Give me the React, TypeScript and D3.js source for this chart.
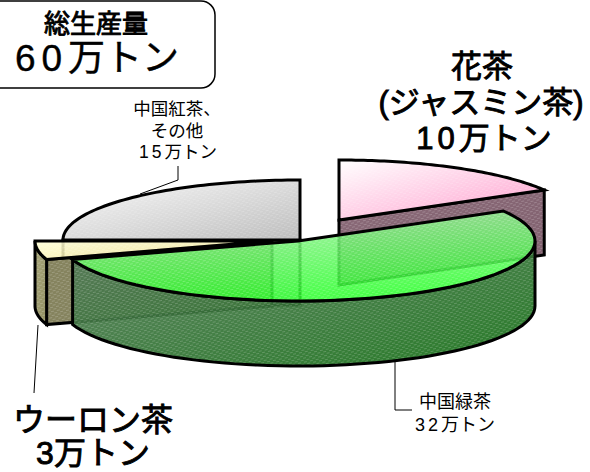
import React from "react";
import * as d3 from "d3";

const sliceNames = ["花茶", "中国緑茶", "ウーロン茶", "中国紅茶"];
const sliceValues = [10, 32, 3, 15];
const topColors = [["#ffffff", "#ff9ccc"], ["#a8eca8", "#2cff2c"], ["#ffffd4", "#f4e490"], ["#fafafa", "#bdbdbd"]];
const sideColors = [["#8a6a78", "#80606e"], ["#62806a", "#1c7c1c"], ["#85835e", "#85835e"], ["#b0b0b0", "#909090"]];
const outerSide = [["#6a5560", "#6a5560"], ["#587a5c", "#147014"], ["#aaa87c", "#8f8d60"], ["#999", "#999"]];
const centers: [number, number][] = [[339, 220], [298, 241], [272, 241], [300, 240]];
const topOpacity = [1, 0.85, 0.85, 1];
const sideOpacity = [1, 0.92, 1, 0.4];
const gradX2 = [1, 0.2, 1, 1];

const RX = 237, RY = 60, DEPTH = 65;

const arcs = d3.pie<number>().sort(null).startAngle(0).endAngle(2 * Math.PI)(sliceValues);

function pt(i: number, a: number, z = 0): [number, number] {
  const [cx, cy] = centers[i];
  return [cx + RX * Math.sin(a), cy - RY * Math.cos(a) + z];
}
function arcPts(i: number, a0: number, a1: number, z = 0): [number, number][] {
  const n = 60;
  return d3.range(n + 1).map((k) => pt(i, a0 + ((a1 - a0) * k) / n, z));
}
const line = d3.line();
function closed(p: [number, number][]) {
  return line(p) + "Z";
}

function Fill({ d, fill, op, hatch = "url(#hatch)", sw = 3 }: any) {
  return (
    <g>
      <path d={d} fill={fill} fillOpacity={op} />
      <path d={d} fill={hatch} />
      <path d={d} fill="none" stroke="#000" strokeWidth={sw} strokeLinejoin="miter" />
    </g>
  );
}

function Slice({ i }: { i: number }) {
  const { startAngle: a0, endAngle: a1 } = arcs[i];
  const c = centers[i];
  const faces: React.ReactNode[] = [];
  [a0, a1].forEach((a, k) => {
    const visible = k === 0 ? Math.sin(a) < -1e-6 : Math.sin(a) > 1e-6;
    if (visible) {
      const e = pt(i, a);
      const poly: [number, number][] = [c, e, [e[0], e[1] + DEPTH], [c[0], c[1] + DEPTH]];
      faces.push(<Fill key={"r" + k} d={closed(poly)} fill={`url(#side${i})`} op={sideOpacity[i]} />);
    }
  });
  const f0 = Math.max(a0, Math.PI / 2), f1 = Math.min(a1, (3 * Math.PI) / 2);
  let outer = null;
  if (f1 > f0) {
    const p = [...arcPts(i, f0, f1), ...arcPts(i, f1, f0, DEPTH)];
    outer = <Fill d={closed(p)} fill={`url(#outer${i})`} op={sideOpacity[i]} />;
  }
  const top = closed([c, ...arcPts(i, a0, a1)]);
  return (
    <g>
      {faces}
      {outer}
      <Fill d={top} fill={`url(#top${i})`} op={topOpacity[i]} />
    </g>
  );
}

const font = "'Liberation Sans','Noto Sans CJK JP',sans-serif";
const drawOrder = [3, 0, 2, 1];
const bold = { stroke: "#000", strokeWidth: 0.9, paintOrder: "stroke" } as const;

export default function App() {
  return (
    <svg width={590} height={472} style={{ position: "absolute", left: 0, top: 0, fontFamily: font }}>
      <defs>
        <pattern id="hatch" width="6" height="4" patternUnits="userSpaceOnUse" patternTransform="rotate(-12)">
          <rect x="0" y="1" width="3" height="1" fill="#fff" fillOpacity="0.2" />
          <rect x="3" y="3" width="3" height="1" fill="#fff" fillOpacity="0.2" />
        </pattern>
        {sliceNames.map((_, i) => (
          <React.Fragment key={i}>
            <linearGradient id={`top${i}`} x1="0" y1="0" x2={gradX2[i]} y2="1">
              <stop offset="0" stopColor={topColors[i][0]} />
              <stop offset="1" stopColor={topColors[i][1]} />
            </linearGradient>
            <linearGradient id={`side${i}`} x1="0" y1="0" x2="1" y2="1">
              <stop offset="0" stopColor={sideColors[i][0]} />
              <stop offset="1" stopColor={sideColors[i][1]} />
            </linearGradient>
            <linearGradient id={`outer${i}`} x1="0" y1="0" x2="1" y2="1">
              <stop offset="0" stopColor={outerSide[i][0]} />
              <stop offset="1" stopColor={outerSide[i][1]} />
            </linearGradient>
          </React.Fragment>
        ))}
      </defs>

      <path d="M178 166V180L140 194M395 362V410H412M38 325L34 393" fill="none" stroke="#000" strokeWidth={1} />

      {drawOrder.map((i) => <Slice key={i} i={i} />)}

      <rect x={-20} y={1} width={235} height={87} rx={14} fill="#fff" stroke="#000" strokeWidth={1.5} />
      <g textAnchor="middle" fill="#000">
        <text x={96} y={33} fontSize={26} {...bold}>総生産量</text>
        <text x={97} y={71} fontSize={37} stroke="#000" strokeWidth={0.4}><tspan letterSpacing={6}>60</tspan>万トン</text>

        <text x={482} y={77} fontSize={31} {...bold}>花茶</text>
        <text x={481} y={113} fontSize={31} {...bold}>(ジャスミン茶)</text>
        <text x={484} y={149} fontSize={31} {...bold}><tspan letterSpacing={4}>10</tspan>万トン</text>

        <text x={177} y={115} fontSize={17.5}>中国紅茶、</text>
        <text x={177} y={137} fontSize={17.5}>その他</text>
        <text x={178} y={158} fontSize={17.5}><tspan letterSpacing={3}>15</tspan>万トン</text>

        <text x={455} y={408} fontSize={18}>中国緑茶</text>
        <text x={455} y={431} fontSize={18}><tspan letterSpacing={3}>32</tspan>万トン</text>

        <text x={93} y={431} fontSize={32} {...bold}>ウーロン茶</text>
        <text x={93} y={464} fontSize={32} {...bold}>3万トン</text>
      </g>
    </svg>
  );
}
